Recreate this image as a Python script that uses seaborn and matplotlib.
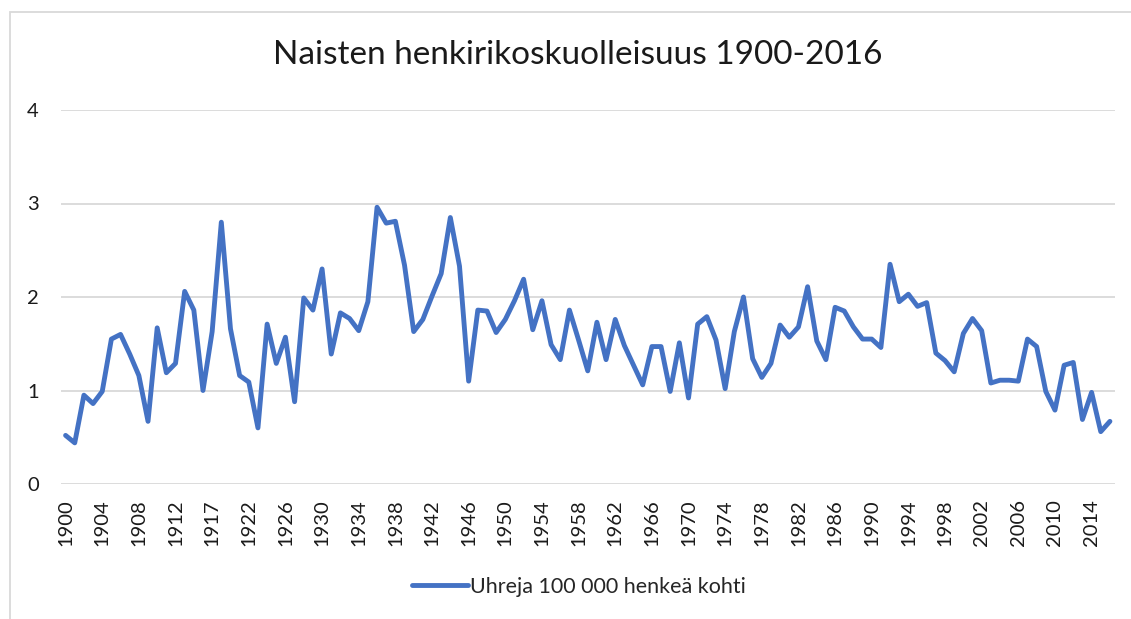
import matplotlib
matplotlib.use("Agg")
import matplotlib.pyplot as plt
import seaborn as sns
import pandas as pd
from matplotlib.patches import Rectangle

years = (list(range(1900, 1914)) + [1915, 1916, 1917] + list(range(1919, 2017)))
values = [0.52, 0.44, 0.95, 0.86, 0.99, 1.55, 1.60, 1.39, 1.16, 0.67,
          1.67, 1.19, 1.29, 2.06, 1.86, 1.00, 1.63, 2.80, 1.66, 1.16,
          1.09, 0.60, 1.71, 1.29, 1.57, 0.88, 1.99, 1.86, 2.30, 1.39,
          1.83, 1.77, 1.64, 1.95, 2.96, 2.79, 2.81, 2.34, 1.63, 1.76,
          2.01, 2.25, 2.85, 2.33, 1.10, 1.86, 1.85, 1.62, 1.76, 1.96,
          2.19, 1.65, 1.96, 1.49, 1.33, 1.86, 1.54, 1.21, 1.73, 1.33,
          1.76, 1.48, 1.27, 1.06, 1.47, 1.47, 0.99, 1.51, 0.92, 1.71,
          1.79, 1.54, 1.02, 1.63, 2.00, 1.34, 1.14, 1.29, 1.70, 1.57,
          1.68, 2.11, 1.53, 1.33, 1.89, 1.85, 1.68, 1.55, 1.55, 1.46,
          2.35, 1.95, 2.03, 1.90, 1.94, 1.40, 1.32, 1.20, 1.61, 1.77,
          1.64, 1.08, 1.11, 1.11, 1.10, 1.55, 1.47, 0.99, 0.79, 1.27,
          1.30, 0.69, 0.98, 0.56, 0.67]
title = "Naisten henkirikoskuolleisuus 1900-2016"
series_name = "Uhreja 100 000 henkeä kohti"
y_ticks = [0, 1, 2, 3, 4]

df = pd.DataFrame({"idx": range(len(years)), "value": values,
                   "series": series_name})

sns.set_theme(style="white")
plt.rcParams["font.family"] = ["Lato", "DejaVu Sans"]

W, H = 1131, 619
fig = plt.figure(figsize=(W / 100, H / 100), dpi=100)
ax = fig.add_axes([61 / W, 1 - 484 / H, (1114.5 - 61) / W, (484 - 110) / H])

sns.lineplot(data=df, x="idx", y="value", hue="series",
             palette=["#4472C4"], linewidth=3.5, ax=ax, legend=True)

ax.set_xlim(-0.5, len(years) - 0.5)
ax.set_ylim(0, 4)
ax.set_yticks(y_ticks)
ax.set_yticklabels([str(t) for t in y_ticks], fontsize=14.5, color="#1a1a1a")
tick_idx = list(range(0, len(years), 4))
ax.set_xticks(tick_idx)
ax.set_xticklabels([str(years[i]) for i in tick_idx], rotation=90,
                   fontsize=14.5, color="#1a1a1a")
ax.tick_params(axis="both", length=0)
ax.tick_params(axis="y", pad=16)
ax.tick_params(axis="x", pad=11)
ax.set_xlabel("")
ax.set_ylabel("")
for s in ax.spines.values():
    s.set_visible(False)
ax.yaxis.grid(True, color="#D9D9D9", linewidth=1.3)
ax.xaxis.grid(False)
ax.set_axisbelow(True)

handles, labels = ax.get_legend_handles_labels()
ax.get_legend().remove()
fig.legend(handles, labels, loc="center", bbox_to_anchor=(579 / W, 1 - 587 / H),
           frameon=False, fontsize=15.5, handlelength=2.6, handletextpad=0.1)

fig.text(578 / W, 1 - 55 / H, title, ha="center", va="center",
         fontsize=24, color="#1a1a1a")

fig.patches.append(Rectangle((9.5 / W, -0.05), 1.2, 1 - 11.5 / H + 0.05,
                             transform=fig.transFigure, fill=False,
                             edgecolor="#D9D9D9", linewidth=1.3))

fig.savefig("out.png", dpi=100, facecolor="white")
